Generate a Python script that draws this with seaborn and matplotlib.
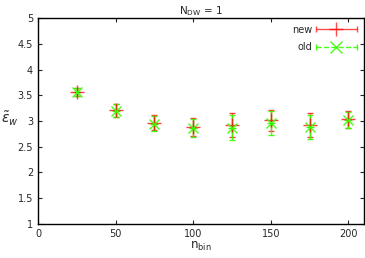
import numpy as np
import matplotlib
matplotlib.use("Agg")
import matplotlib.pyplot as plt
from matplotlib.legend_handler import HandlerErrorbar
import seaborn as sns

# values
n_bin = [25, 50, 75, 100, 125, 150, 175, 200]
eps_new = [3.57, 3.21, 2.97, 2.88, 2.92, 3.01, 2.92, 3.03]
err_new = [0.08, 0.13, 0.15, 0.17, 0.24, 0.20, 0.23, 0.17]
eps_old = [3.56, 3.20, 2.95, 2.86, 2.87, 2.96, 2.89, 3.02]
err_old = [0.08, 0.13, 0.15, 0.17, 0.24, 0.24, 0.23, 0.16]

sns.set_style("ticks")
plt.rcParams["font.family"] = ["DejaVu Sans"]
plt.rcParams["font.size"] = 7

fig, ax = plt.subplots(figsize=(3.65, 2.58), dpi=100)
fig.subplots_adjust(left=0.104, right=0.997, top=0.93, bottom=0.132)

ax.errorbar(n_bin, eps_new, yerr=err_new, fmt="+", color="#ff0000", ms=10, mew=1.0,
            elinewidth=1.0, capsize=2, capthick=1.0, alpha=0.75)
ax.errorbar(n_bin, eps_old, yerr=err_old, fmt="x", color="#33ff00", ms=7, mew=1.0,
            elinewidth=1.0, capsize=2, capthick=1.0, alpha=0.9)
sns.scatterplot(x=n_bin, y=eps_old, ax=ax, marker="+", color="#33ff00", s=40,
                linewidth=1.0, legend=False)

# gnuplot-like legend samples: horizontal bar with caps
h_new = ax.errorbar([np.nan], [np.nan], xerr=[1], fmt="+", color="#ff0000", ms=10,
                    mew=1.0, elinewidth=1.0, capsize=2.5, alpha=0.7, label="new")
h_old = ax.errorbar([np.nan], [np.nan], xerr=[1], fmt="x", color="#33ff00", ms=8,
                    mew=1.0, elinewidth=1.0, capsize=2.5, alpha=0.9, label="old")
h_old[2][0].set_linestyle("--")

ax.set_xlim(0, 210)
ax.set_ylim(1, 5)
ax.set_xticks([0, 50, 100, 150, 200])
ax.set_yticks(np.arange(1, 5.01, 0.5))
ax.set_yticklabels(["1", "1.5", "2", "2.5", "3", "3.5", "4", "4.5", "5"])
ax.tick_params(direction="in", top=True, right=True, length=3, width=0.8, labelsize=7)
for s in ax.spines.values():
    s.set_linewidth(1.0)
    s.set_color("black")

ax.set_xlabel(r"n$_{\rm bin}$", fontsize=8.5, labelpad=1)
ax.set_ylabel(r"$\tilde{\epsilon}_w$", fontsize=10, rotation=0, ha="center", va="center")
ax.yaxis.set_label_coords(-0.085, 0.51)
ax.set_title(r"N$_{\rm DW}$ = 1", fontsize=7.5, pad=3)

hm = HandlerErrorbar(xerr_size=2.1)
ax.legend(handles=[h_new, h_old], loc="upper right", frameon=False, markerfirst=False,
          fontsize=7, handlelength=4.3, handletextpad=0.3, borderaxespad=0.3,
          labelspacing=0.75, handler_map={h_new: hm, h_old: hm})

fig.savefig("out.png", dpi=100)
